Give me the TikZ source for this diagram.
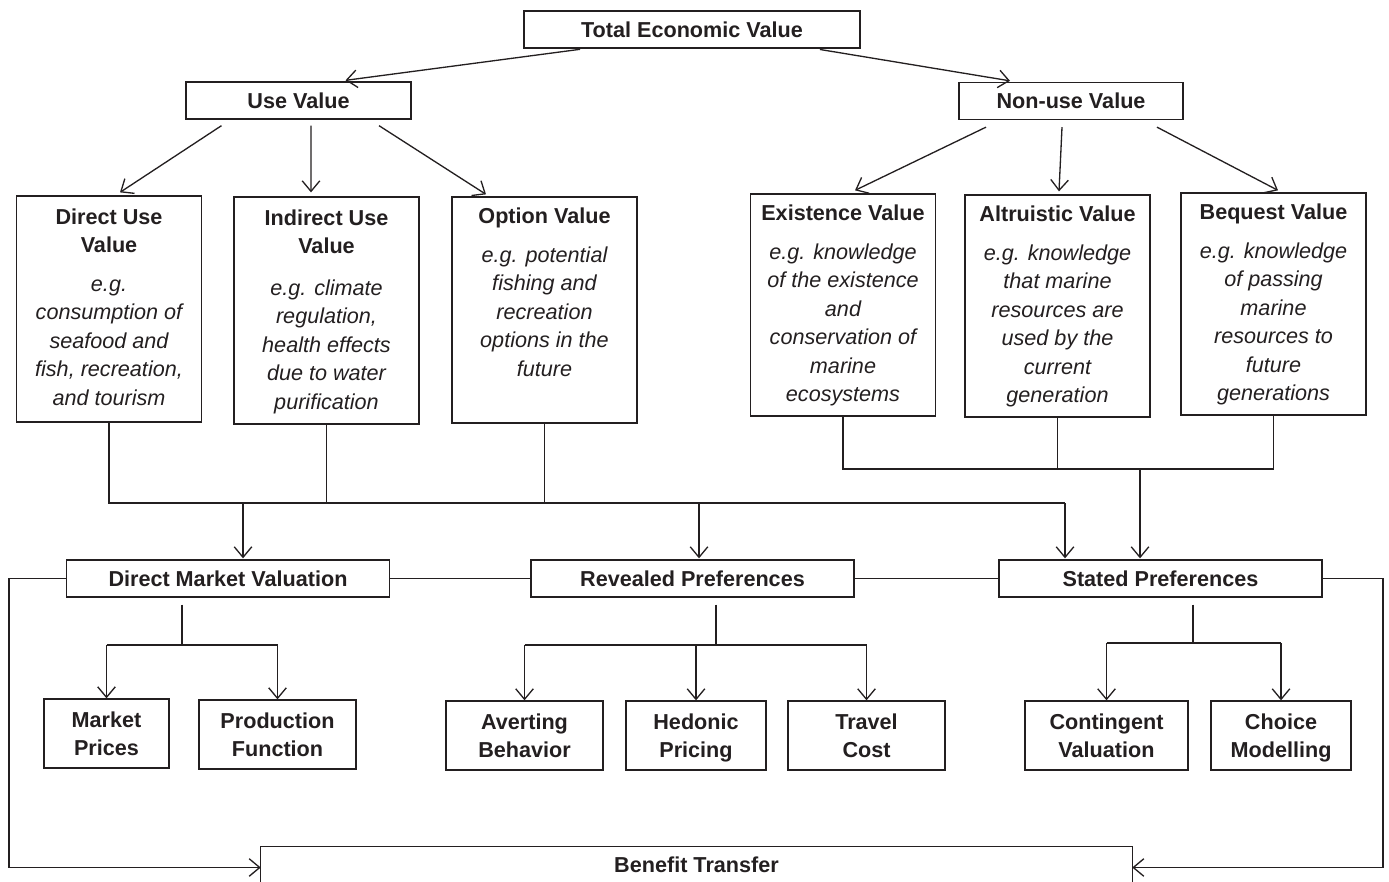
\documentclass[tikz,border=0pt]{standalone}
\usepackage{fontspec}
\setmainfont{Liberation Sans}
\usetikzlibrary{arrows.meta,positioning,calc}
\definecolor{ink}{RGB}{35,31,32}
\newcommand\diagfont{\fontsize{12.3}{16.2}\selectfont}
\tikzset{
    every node/.style={font=\diagfont, text=ink},
    box/.style={draw=ink, line width=0.75pt, inner sep=0pt, minimum height=0.74cm, font=\diagfont\bfseries},
    valbox/.style={box, minimum width=3.7cm, minimum height=#1},
    valbox/.default=4.52cm,
    methodbox/.style={box, minimum width=6.46cm},
    techbox/.style={box, minimum height=1.38cm, align=center, text depth=0pt},
    title/.style={font=\diagfont\bfseries, align=center, inner sep=0pt, anchor=north},
    example/.style={font=\diagfont\itshape, align=center, inner sep=0pt, anchor=north},
    arr/.style={-{Straight Barb[length=6pt,width=10pt]}, line width=0.75pt, draw=ink},
    link/.style={line width=0.75pt, draw=ink},
}

\begin{document}
\begin{tikzpicture}[x=0.02cm, y=-0.02cm]
    \useasboundingbox (0,0) rectangle (1389,882);

    % top of the tree
    \node[box, minimum width=6.72cm] (tev) at (692,29.5) {Total Economic Value};
    \node[box, minimum width=4.5cm] (use) at (298.5,100.5) {Use Value};
    \node[box, minimum width=4.48cm] (nonuse) at (1071,101) {Non-use Value};

    % value boxes
    \node[valbox] (direct) at (109,309) {};
    \node[valbox=4.54cm] (indirect) at (326.5,310.5) {};
    \node[valbox] (option) at (544.5,310) {};
    \node[valbox=4.44cm] (exist) at (843,305) {};
    \node[valbox=4.44cm] (altru) at (1057.5,306) {};
    \node[valbox=4.44cm] (bequest) at (1273.5,304) {};

    \node[title] at ($(direct.north)+(0,13)$) {Direct Use\\Value};
    \node[example] at ($(direct.north)+(0,84)$) {e.g.\\consumption of\\seafood and\\fish, recreation,\\and tourism};
    \node[title] at ($(indirect.north)+(0,13)$) {Indirect Use\\Value};
    \node[example] at ($(indirect.north)+(0,83)$) {e.g. climate\\regulation,\\health effects\\due to water\\purification};
    \node[title] at ($(option.north)+(0,11)$) {Option Value};
    \node[example] at ($(option.north)+(0,50)$) {e.g. potential\\fishing and\\recreation\\options in the\\future};
    \node[title] at ($(exist.north)+(0,11)$) {Existence Value};
    \node[example] at ($(exist.north)+(0,50)$) {e.g. knowledge\\of the existence\\and\\conservation of\\marine\\ecosystems};
    \node[title] at ($(altru.north)+(0,11)$) {Altruistic Value};
    \node[example] at ($(altru.north)+(0,50)$) {e.g. knowledge\\that marine\\resources are\\used by the\\current\\generation};
    \node[title] at ($(bequest.north)+(0,11)$) {Bequest Value};
    \node[example] at ($(bequest.north)+(0,50)$) {e.g. knowledge\\of passing\\marine\\resources to\\future\\generations};

    % valuation methods
    \node[methodbox] (dmv) at (228,578.5) {Direct Market Valuation};
    \node[methodbox] (revealed) at (692.5,578.5) {Revealed Preferences};
    \node[methodbox] (stated) at (1160.5,578.5) {Stated Preferences};

    \node[techbox, minimum width=2.5cm] (mp) at (106.5,733.5) {Market\\Prices};
    \node[techbox, minimum width=3.14cm] (pf) at (277.5,734.5) {Production\\Function};
    \node[techbox, minimum width=3.14cm] (avert) at (524.5,735.5) {Averting\\Behavior};
    \node[techbox, minimum width=2.8cm] (hedonic) at (696,735.5) {Hedonic\\Pricing};
    \node[techbox, minimum width=3.14cm] (travel) at (866.5,735.5) {Travel\\Cost};
    \node[techbox, minimum width=3.26cm] (contingent) at (1106.5,735.5) {Contingent\\Valuation};
    \node[techbox, minimum width=2.8cm] (choice) at (1281,735.5) {Choice\\Modelling};

    % benefit transfer, open at the bottom
    \node[inner sep=0pt, minimum width=17.42cm, minimum height=0.7cm, font=\diagfont\bfseries] (bt) at (696.5,864.5) {Benefit Transfer};
    \draw[link] (bt.south west) -- (bt.north west) -- (bt.north east) -- (bt.south east);

    % arrows of the tree
    \draw[arr, shorten <=0.1cm] ($(tev.south)+(-107,0)$) -- ($(use.north)+(47,-1)$);
    \draw[arr, shorten <=0.1cm] ($(tev.south)+(123,0)$) -- ($(nonuse.north)+(-61,-1)$);
    \draw[arr] ($(use.south)+(-77,6)$) -- ($(direct.north)+(11,-3)$);
    \draw[arr] ($(use.south)+(12.5,6)$) -- ($(indirect.north)+(-15.5,-4)$);
    \draw[arr] ($(use.south)+(80.5,6)$) -- ($(option.north)+(-58.5,-2)$);
    \draw[arr] ($(nonuse.south)+(-85,7)$) -- ($(exist.north)+(12,-3)$);
    \draw[arr] ($(nonuse.south)+(-9,7)$) -- ($(altru.north)+(1.5,-3)$);
    \draw[arr] ($(nonuse.south)+(86,7)$) -- ($(bequest.north)+(4.5,-2)$);

    % collecting lines
    \coordinate (usebus) at (0,503);
    \coordinate (nonbus) at (0,469);
    \coordinate (dmvin) at ($(dmv.north)+(15,-1)$);
    \coordinate (revin) at ($(revealed.north)+(6.5,-1)$);
    \coordinate (statedin) at ($(stated.north)+(-95.5,-1)$);
    \coordinate (statedin2) at ($(stated.north)+(-20.5,-1)$);
    \draw[link] (direct.south) -- (direct.south |- usebus) -- (statedin |- usebus);
    \draw[link] (indirect.south) -- (indirect.south |- usebus);
    \draw[link] (option.south) -- (option.south |- usebus);
    \foreach \t in {dmvin,revin,statedin}
        \draw[arr] (\t |- usebus) -- (\t);
    \draw[link] (exist.south) -- (exist.south |- nonbus) -- (bequest.south |- nonbus) -- (bequest.south);
    \draw[link] (altru.south) -- (altru.south |- nonbus);
    \draw[arr] (statedin2 |- nonbus) -- (statedin2);

    % method row
    \draw[link] (dmv.east) -- (revealed.west);
    \draw[link] (revealed.east) -- (stated.west);
    \coordinate (leftrail) at (9,0);
    \coordinate (rightrail) at (1383,0);
    \draw[arr] (dmv.west) -- (dmv.west -| leftrail) |- ($(bt.west)+(0,3)$);
    \draw[arr] (stated.east) -- (stated.east -| rightrail) |- ($(bt.east)+(0,3)$);

    % techniques
    \coordinate (dmvbus) at (0,645);
    \coordinate (revbus) at (0,645);
    \coordinate (statbus) at (0,643);
    \coordinate (dmvstem) at ($(dmv.south)+(-46,7)$);
    \coordinate (revstem) at ($(revealed.south)+(23.5,7)$);
    \coordinate (statstem) at ($(stated.south)+(32.5,7)$);
    \draw[link] (dmvstem) -- (dmvstem |- dmvbus);
    \draw[link] (revstem) -- (revstem |- revbus);
    \draw[link] (statstem) -- (statstem |- statbus);
    \draw[link] (mp.north |- dmvbus) -- (pf.north |- dmvbus);
    \draw[link] (avert.north |- revbus) -- (travel.north |- revbus);
    \draw[link] (contingent.north |- statbus) -- (choice.north |- statbus);
    \foreach \t in {mp,pf}
        \draw[arr] (\t.north |- dmvbus) -- (\t.north);
    \foreach \t in {avert,hedonic,travel}
        \draw[arr] (\t.north |- revbus) -- (\t.north);
    \foreach \t in {contingent,choice}
        \draw[arr] (\t.north |- statbus) -- (\t.north);
\end{tikzpicture}
\end{document}
